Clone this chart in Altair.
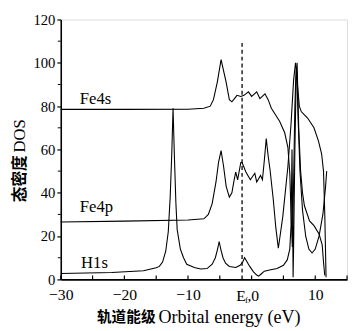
import altair as alt
import pandas as pd

# ---- data ----
fe4s_x = [-30, -20, -10, -7.5, -6.5, -6.0, -5.4, -4.8, -4.0, -3.5, -3.1, -2.7, -2.3, -1.7, -1.2,
          -0.5, 0.0, 0.8, 1.3, 2.1, 2.6, 3.1, 4.4, 5.2, 5.7, 6.0, 6.2, 6.4, 6.6, 6.8,
          7.0, 7.2, 7.5, 7.8, 8.3, 8.8, 9.8, 10.5, 11.0, 11.3, 11.5, 11.7]
fe4s_y = [78.5, 78.5, 78.6, 79, 80, 83, 91, 101.5, 91, 83, 82, 83.5, 85, 84.5, 85,
          86.6, 84.5, 86.6, 83.5, 85.7, 83, 79, 73, 67.7, 61, 49, 30, 15, 45, 80,
          98, 90, 80, 77.5, 76, 74.5, 70, 64, 58, 50, 30, 1]

fe4p_x = [-30, -20, -10, -7.5, -6.8, -6.2, -5.6, -5.2, -4.8, -4.4, -4.0, -3.5, -3.1, -2.8, -2.5,
          -2.2, -1.7, -1.5, -0.9, -0.2, 0.5, 0.8, 1.4, 1.7, 2.0, 2.3, 2.6, 2.9, 3.4, 3.8,
          4.2, 4.9, 5.7, 6.2, 6.6, 6.9, 7.1, 7.3, 7.6, 8.0, 8.5, 9.0, 9.5, 10.0, 10.6,
          11.2, 11.6, 11.8]
fe4p_y = [26.5, 26.9, 27.4, 28, 30, 35, 45, 54, 59.5, 52, 43, 38, 40, 45, 49.6,
          46, 54, 54, 49.6, 46, 49, 45, 48, 46, 55, 65, 57, 50.5, 37, 24,
          14.4, 29, 52, 72, 92, 100, 96, 75, 50, 32, 20, 14, 12.2, 14, 20,
          30, 42, 50]

h1s_x = [-30, -22, -17, -15, -14.5, -14, -13.5, -13.1, -12.8, -12.55, -12.35, -12.15, -11.9, -11.7,
         -11.2, -10.7, -10.2, -9, -8, -7, -6.2, -5.7, -5.35, -5.1, -4.85, -4.5, -4.1, -3.5,
         -2.5, -1.8, -1.4, -1.1, -0.8, -0.3, 0.3, 0.8, 1.1, 1.5, 2.0, 3.0, 4.0, 5.0, 5.6,
         6.0, 6.2, 6.35, 6.45, 6.52, 6.6, 6.8, 7.0, 7.15, 7.4, 7.7, 8.0, 8.3, 9.1, 9.8,
         10.6, 11.1, 11.3, 11.5]
h1s_y = [2.7, 3.2, 4.0, 5.4, 6, 8, 13, 22, 38, 58, 79, 58, 35, 23,
         14, 10, 7, 5.5, 4.8, 5, 7, 10, 14, 17.5, 14, 10, 7.5, 6,
         5.5, 6.5, 8, 10, 8.5, 6, 3.5, 2, 1.5, 2.5, 3.8, 4.5, 5, 6.5, 9,
         14, 25, 60, 30, 1, 15, 60, 92, 100, 70, 50, 40, 34, 27, 24.8,
         21, 15.8, 8, 1.8]

series_names = ["Fe4s", "Fe4p", "H1s"]
label_x = [-27, -27, -26.8]
label_y = [81, 31, 5.4]

fermi_x = [-1.5]
fermi_top = [110]

x_tick_values = [-30, -25, -20, -15, -10, -5, 0, 5, 10, 15]
y_tick_values = [0, 20, 40, 60, 80, 100, 120]
y_minor_values = [10, 30, 50, 70, 90, 110]

# ---- tables ----
rows = []
for name, xs, ys in [("Fe4s", fe4s_x, fe4s_y), ("Fe4p", fe4p_x, fe4p_y), ("H1s", h1s_x, h1s_y)]:
    for i, (a, b) in enumerate(zip(xs, ys)):
        rows.append({"series": name, "x": a, "y": b, "i": i})
df = pd.DataFrame(rows)
lab_df = pd.DataFrame({"t": series_names, "x": label_x, "y": label_y})
fermi_df = pd.DataFrame({"x": fermi_x, "y0": [0], "y1": fermi_top})
xt_df = pd.DataFrame({"x": x_tick_values})
ym_df = pd.DataFrame({"y": y_minor_values})

SERIF = "Liberation Serif"
CJK = "Noto Sans CJK SC"
W, H = 293, 266

xscale = alt.Scale(domain=[-30, 15], nice=False, zero=False)
yscale = alt.Scale(domain=[0, 120], nice=False, zero=False)
x_axis = alt.Axis(values=x_tick_values,
                  labelExpr="datum.value % 10 == 0 && datum.value != 0 ? datum.label : ''",
                  ticks=False, title=None, grid=False, domainColor="black", domainWidth=1.6,
                  labelFont=SERIF, labelFontSize=16, labelColor="black", labelPadding=8,
                  labelFlush=False)
y_axis = alt.Axis(values=y_tick_values, title=None, grid=False, domainColor="black", domainWidth=1.6,
                  tickColor="black", tickSize=4, tickWidth=1.2, labelFont=SERIF, labelFontSize=15,
                  labelColor="black", labelPadding=2, labelFlush=False)

X = lambda f="x": alt.X(f"{f}:Q", scale=xscale, axis=x_axis)
Y = lambda f="y": alt.Y(f"{f}:Q", scale=yscale, axis=y_axis)

lines = alt.Chart(df).mark_line(color="black", strokeWidth=1.1).encode(
    x=X(), y=Y(), detail="series:N", order="i:Q")

labels = alt.Chart(lab_df).mark_text(align="left", baseline="alphabetic", font=SERIF,
                                     fontSize=17, color="black").encode(x=X(), y=Y(), text="t:N")

fermi = alt.Chart(fermi_df).mark_rule(color="black", strokeWidth=1.3, strokeDash=[4, 3]).encode(
    x=X(), y=Y("y0"), y2="y1:Q")

xticks = alt.Chart(xt_df).mark_rule(color="black", strokeWidth=1.2).encode(
    x=X(), y=alt.value(H), y2=alt.value(H - 4))

yminor = alt.Chart(ym_df).mark_rule(color="black", strokeWidth=1.0).encode(
    y=Y(), x=alt.value(0), x2=alt.value(-3))

# E_f,0 label under the Fermi level
ef = alt.Chart(pd.DataFrame({"t": ["E"]})).mark_text(
    align="right", baseline="alphabetic", font=SERIF, fontSize=16, color="black").encode(
    text="t:N", x=alt.value(189.5), y=alt.value(H + 22))
ef_sub = alt.Chart(pd.DataFrame({"t": ["f"]})).mark_text(
    align="left", baseline="alphabetic", font=SERIF, fontSize=9, color="black").encode(
    text="t:N", x=alt.value(188.5), y=alt.value(H + 24))
ef_zero = alt.Chart(pd.DataFrame({"t": [",0"]})).mark_text(
    align="left", baseline="alphabetic", font=SERIF, fontSize=16, color="black").encode(
    text="t:N", x=alt.value(191), y=alt.value(H + 22))

# axis titles as text (bold CJK part, regular serif part)
xt_cn = alt.Chart(pd.DataFrame({"t": ["轨道能级"]})).mark_text(
    align="right", baseline="middle", font=CJK, fontWeight="bold", fontSize=15, color="black").encode(
    text="t:N", x=alt.value(97), y=alt.value(H + 39))
xt_en = alt.Chart(pd.DataFrame({"t": ["Orbital energy (eV)"]})).mark_text(
    align="left", baseline="middle", font=SERIF, fontSize=18.5, color="black").encode(
    text="t:N", x=alt.value(100), y=alt.value(H + 39))

yt_cn = alt.Chart(pd.DataFrame({"t": ["态密度"]})).mark_text(
    align="left", baseline="middle", font=CJK, fontWeight="bold", fontSize=16, angle=270,
    color="black").encode(text="t:N", x=alt.value(-42), y=alt.value(187))
yt_en = alt.Chart(pd.DataFrame({"t": ["DOS"]})).mark_text(
    align="left", baseline="middle", font=SERIF, fontSize=17, angle=270,
    color="black").encode(text="t:N", x=alt.value(-42), y=alt.value(136))

chart = alt.layer(lines, fermi, xticks, yminor, labels, ef, ef_sub, ef_zero,
                  xt_cn, xt_en, yt_cn, yt_en).properties(
    width=W, height=H, autosize=alt.AutoSizeParams(type="none"),
    padding={"left": 54, "top": 8, "right": 2, "bottom": 48}
).configure_view(stroke=None).configure(background="white")

chart.save("out.html", embed_options={"renderer": "svg", "actions": False})
